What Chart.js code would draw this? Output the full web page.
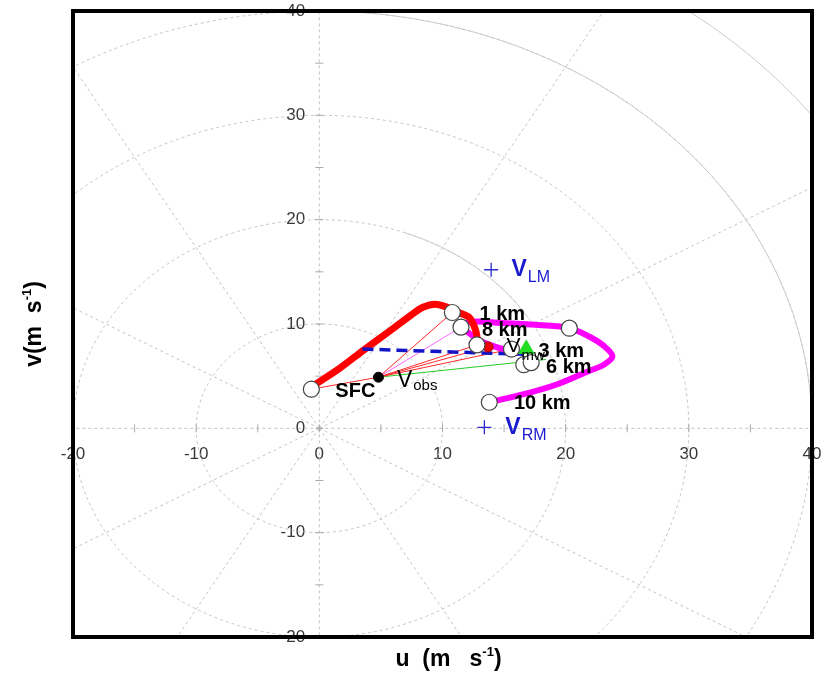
<!DOCTYPE html>
<html>
<head>
<meta charset="utf-8">
<script src="https://cdn.jsdelivr.net/npm/chart.js@4.4.1/dist/chart.umd.min.js"></script>
<style>
  html, body { margin: 0; padding: 0; background: #fff; }
</style>
</head>
<body>
<canvas id="hodo" width="825" height="674"></canvas>
<script>
// ── Hodograph data (u, v in m/s) ──────────────────────────────
// thick red trace, surface up to ~3 km
const redU = [-0.6, 1.7, 3.6, 5.8, 7.5, 8.4, 9.4, 10.4, 11.3, 12.2, 12.6, 12.8, 12.8];
const redV = [ 4.0, 5.8, 7.5, 9.4, 10.9, 11.6, 11.9, 11.6, 11.1, 10.6, 9.7, 8.8, 8.1];

// thick magenta trace, 3-8 km leg
const magLowU = [15.4, 13.2, 11.5];
const magLowV = [ 7.4,  8.3,  9.7];
// thick magenta trace, 8-10 km loop
const magLoopU = [11.5, 12.2, 14.8, 17.8, 20.3, 21.9, 23.1, 23.8, 23.1, 21.9, 19.5, 17.0, 13.8];
const magLoopV = [ 9.7, 10.2, 10.1,  9.9,  9.6,  8.8,  7.9,  6.9,  6.1,  5.5,  4.3,  3.4,  2.5];

// open circles at the height levels
const levelU = [-0.65, 10.8, 11.5, 12.8, 15.6, 16.6, 17.2, 20.3, 13.8];
const levelV = [ 3.75, 11.1,  9.7,  8.0,  7.6,  6.1,  6.3,  9.6,  2.5];

// observed storm motion and vectors from it
const obsU = 4.8, obsV = 4.9;
const rayRedU = [-0.65, 10.8, 12.8, 13.7, 15.6];
const rayRedV = [ 3.75, 11.1,  8.0,  7.8,  7.6];
const rayPinkU = [11.5];
const rayPinkV = [ 9.7];
const rayGreenU = [18.4];
const rayGreenV = [ 6.6];

// mean wind line (blue dashed)
const meanU = [3.5, 16.6];
const meanV = [7.6, 7.1];

// other markers
const redDotU = [13.7],  redDotV = [7.8];
const greenTriU = [16.8], greenTriV = [7.6];
const stormU = [13.95, 13.4];   // V_LM, V_RM
const stormV = [15.2, 0.1];

// axis ticks
const tickMin = -20, tickMax = 40, tickStep = 5;

// ── Helpers ───────────────────────────────────────────────────
const FONT = "'Liberation Sans', Arial, sans-serif";
const pts = (us, vs) => us.map((u, i) => ({ x: u, y: vs[i] }));
const ray = (u, v, color, order) => ({
  data: [{ x: obsU, y: obsV }, { x: u, y: v }],
  showLine: true, borderColor: color, borderWidth: 1, pointRadius: 0, order
});

// ── Polar grid behind the data ────────────────────────────────
const dashedRings = [10, 20, 30, 40];
const solidArcs = [[20, 32, 70], [40, 0, 85], [50, 0, 90]];
const spokes = [0, 30, 60, 90, 120, 150, 180, 210, 240, 270, 300, 330];

const polarGrid = {
  id: 'polarGrid',
  beforeDatasetsDraw(chart) {
    const { ctx, chartArea: a, scales: { x, y } } = chart;
    const x0 = x.getPixelForValue(0), y0 = y.getPixelForValue(0);
    const kx = x.getPixelForValue(1) - x0, ky = y0 - y.getPixelForValue(1);
    ctx.save();
    ctx.beginPath(); ctx.rect(a.left, a.top, a.width, a.height); ctx.clip();
    ctx.strokeStyle = '#c4c4c4'; ctx.lineWidth = 1; ctx.setLineDash([3, 3]);
    dashedRings.forEach(r => {
      ctx.beginPath(); ctx.ellipse(x0, y0, r * kx, r * ky, 0, 0, 2 * Math.PI); ctx.stroke();
    });
    spokes.forEach(d => {
      const t = d * Math.PI / 180;
      ctx.beginPath(); ctx.moveTo(x0, y0);
      ctx.lineTo(x0 + 80 * kx * Math.cos(t), y0 - 80 * ky * Math.sin(t)); ctx.stroke();
    });
    ctx.setLineDash([]); ctx.strokeStyle = '#cccccc';
    solidArcs.forEach(([r, d0, d1]) => {
      ctx.beginPath();
      ctx.ellipse(x0, y0, r * kx, r * ky, 0, -d1 * Math.PI / 180, -d0 * Math.PI / 180);
      ctx.stroke();
    });
    // small ticks crossing the axes every 5 m/s
    ctx.strokeStyle = '#aaa';
    for (let t = tickMin; t <= tickMax; t += tickStep) {
      const px = x.getPixelForValue(t), py = y.getPixelForValue(t);
      ctx.beginPath(); ctx.moveTo(px, y0 - 4); ctx.lineTo(px, y0 + 4); ctx.stroke();
      ctx.beginPath(); ctx.moveTo(x0 - 4, py); ctx.lineTo(x0 + 4, py); ctx.stroke();
    }
    ctx.restore();
  }
};

// ── Text labels on the plot ───────────────────────────────────
const labelItems = [
  { u: 1.3,   v: 3.5,  text: 'SFC',   font: 'bold 20px', color: '#000' },
  { u: 6.3,   v: 4.6,  text: 'V', sub: 'obs', font: '23px', subFont: '15px', dy: 6, color: '#000' },
  { u: 13.0,  v: 10.9, text: '1 km',  font: 'bold 20px', color: '#000' },
  { u: 13.2,  v: 9.4,  text: '8 km',  font: 'bold 20px', color: '#000' },
  { u: 17.8,  v: 7.4,  text: '3 km',  font: 'bold 20px', color: '#000' },
  { u: 18.4,  v: 5.8,  text: '6 km',  font: 'bold 20px', color: '#000' },
  { u: 15.8,  v: 2.4,  text: '10 km', font: 'bold 20px', color: '#000' },
  { u: 15.2,  v: 7.9,  text: 'V', sub: 'mw', font: '21px', subFont: '15px', dy: 10, color: '#000' },
  { u: 15.6,  v: 15.2, text: 'V', sub: 'LM', font: 'bold 23px', subFont: '16px', dy: 8, color: '#1a1ad0' },
  { u: 15.1,  v: 0.1,  text: 'V', sub: 'RM', font: 'bold 23px', subFont: '16px', dy: 8, color: '#1a1ad0' }
];

const plotLabels = {
  id: 'plotLabels',
  afterDatasetsDraw(chart) {
    const { ctx, scales: { x, y } } = chart;
    ctx.save();
    ctx.textBaseline = 'middle';
    ctx.textAlign = 'left';
    labelItems.forEach(l => {
      const px = x.getPixelForValue(l.u), py = y.getPixelForValue(l.v);
      ctx.fillStyle = l.color;
      ctx.font = `${l.font} ${FONT}`;
      ctx.fillText(l.text, px, py);
      if (l.sub) {
        const w = ctx.measureText(l.text).width;
        ctx.font = `${l.subFont} ${FONT}`;
        ctx.fillText(l.sub, px + w + 1, py + l.dy);
      }
    });
    ctx.restore();
  }
};

// ── Frame and axis titles ─────────────────────────────────────
function drawTitle(ctx, cx, cy, head) {
  const parts = [
    { t: head, f: `bold 23px ${FONT}`, dy: 0 },
    { t: '-1', f: `bold 13px ${FONT}`, dy: -8 },
    { t: ')', f: `bold 23px ${FONT}`, dy: 0 }
  ];
  let total = 0;
  parts.forEach(p => { ctx.font = p.f; p.w = ctx.measureText(p.t).width; total += p.w; });
  let px = cx - total / 2;
  parts.forEach(p => { ctx.font = p.f; ctx.fillText(p.t, px, cy + p.dy); px += p.w; });
}

const frame = {
  id: 'frame',
  afterDraw(chart) {
    const { ctx, chartArea: a } = chart;
    ctx.save();
    ctx.strokeStyle = '#000'; ctx.lineWidth = 4;
    ctx.strokeRect(a.left, a.top, a.width, a.height);
    ctx.fillStyle = '#000'; ctx.textBaseline = 'middle'; ctx.textAlign = 'left';
    drawTitle(ctx, (a.left + a.right) / 2 + 6, a.bottom + 23, 'u  (m   s');
    ctx.translate(a.left - 38, (a.top + a.bottom) / 2);
    ctx.rotate(-Math.PI / 2);
    drawTitle(ctx, 0, 0, 'v(m  s');
    ctx.restore();
  }
};

// ── Chart ─────────────────────────────────────────────────────
// label overflow should not shrink the plot area: the frame sits on the limits
const noEdgePadding = s => { s.paddingTop = s.paddingBottom = s.paddingLeft = s.paddingRight = 0; };

const axisOpts = (pos, suffix) => ({
  type: 'linear',
  position: pos,
  min: tickMin, max: tickMax,
  border: { display: false },
  afterFit: noEdgePadding,
  grid: { drawOnChartArea: false, drawTicks: false },
  ticks: {
    stepSize: tickStep, autoSkip: false, maxRotation: 0, padding: 16,
    color: '#383838', font: { family: FONT, size: 17 },
    callback: v => (v % 10 === 0 ? v + suffix : '')
  }
});

new Chart(document.getElementById('hodo'), {
  type: 'scatter',
  data: {
    datasets: [
      { data: pts(levelU, levelV), pointRadius: 8, pointBackgroundColor: '#fff',
        pointBorderColor: '#444', pointBorderWidth: 1.2, order: 0 },
      { data: pts(redDotU, redDotV), pointRadius: 5, pointBackgroundColor: '#ee0000',
        pointBorderColor: '#aa0000', pointBorderWidth: 1, order: 0 },
      { data: pts(greenTriU, greenTriV), pointStyle: 'triangle', pointRadius: 9,
        pointBackgroundColor: '#22dd22', pointBorderColor: '#22dd22', order: 0 },
      { data: [{ x: obsU, y: obsV }], pointRadius: 5, pointBackgroundColor: '#000',
        pointBorderColor: '#000', order: 0 },
      { data: pts(stormU, stormV), pointStyle: 'cross', pointRadius: 7,
        pointBorderColor: '#2a2ad0', pointBorderWidth: 1.3, order: 0 },
      { data: pts(meanU, meanV), showLine: true, borderColor: '#1515c8', borderWidth: 3.5,
        borderDash: [11, 6], pointRadius: 0, order: 1 },
      { data: pts(redU, redV), showLine: true, borderColor: '#ff0000', borderWidth: 7,
        tension: 0.25, borderCapStyle: 'round', borderJoinStyle: 'round', pointRadius: 0, order: 2 },
      { data: pts(magLowU, magLowV), showLine: true, borderColor: '#ff00ff', borderWidth: 6,
        tension: 0.3, borderCapStyle: 'round', pointRadius: 0, order: 2 },
      { data: pts(magLoopU, magLoopV), showLine: true, borderColor: '#ff00ff', borderWidth: 6,
        tension: 0.35, borderCapStyle: 'round', borderJoinStyle: 'round', pointRadius: 0, order: 2 },
      ...rayRedU.map((u, i) => ray(u, rayRedV[i], '#ff2a2a', 3)),
      ...rayPinkU.map((u, i) => ray(u, rayPinkV[i], '#ff66ff', 3)),
      ...rayGreenU.map((u, i) => ray(u, rayGreenV[i], '#22cc22', 3))
    ]
  },
  options: {
    responsive: false,
    animation: false,
    layout: { padding: { left: 73, right: 13, top: 11, bottom: 37 } },
    plugins: { legend: { display: false }, tooltip: { enabled: false } },
    scales: {
      x: axisOpts({ y: 0 }, ''),
      y: axisOpts({ x: 0 }, '   ')
    }
  },
  plugins: [polarGrid, plotLabels, frame]
});
</script>
</body>
</html>
